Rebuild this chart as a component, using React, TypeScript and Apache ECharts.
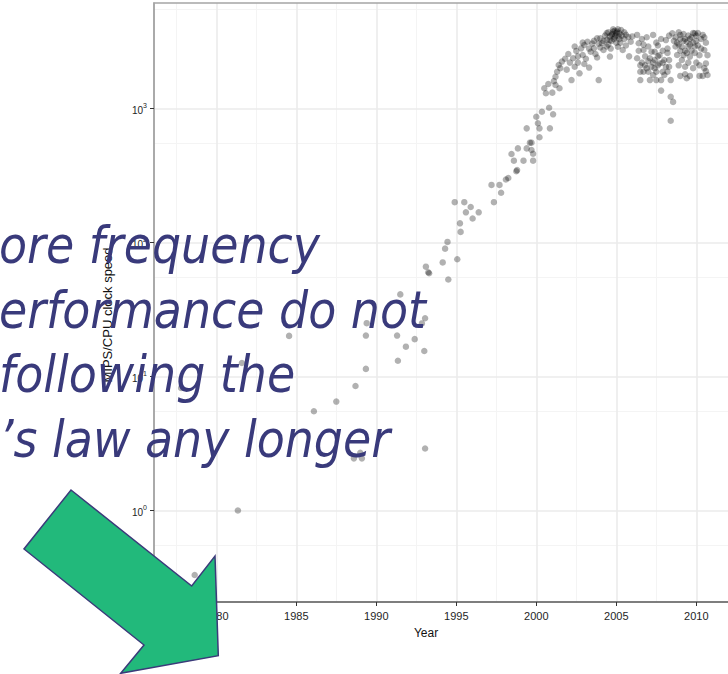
import React, { useEffect, useRef } from 'react';
import * as echarts from 'echarts';

// ---- axis ticks / gridlines ----
const xTickYears = [1980, 1985, 1990, 1995, 2000, 2005, 2010];
const xMinorYears = [1977.5, 1982.5, 1987.5, 1992.5, 1997.5, 2002.5, 2007.5, 2012.5];
const yMajorValues = [1, 10, 100, 1000];
const yMinorValues = [0.55, 5.5, 55, 550, 5500];

// ---- data: [year, MIPS / CPU clock speed] ----
const earlyPoints = [
  [1977.8, 8.2], [1978.65, 0.33], [1981.35, 1.0], [1981.6, 12.6], [1984.55, 20.1],
  [1986.1, 5.5], [1987.5, 6.5], [1988.7, 8.5], [1988.6, 2.45], [1989.0, 2.7],
  [1989.1, 2.45], [1989.35, 11.4], [1989.35, 20.2], [1989.4, 25], [1991.3, 20.2],
  [1991.35, 13.1], [1991.85, 16.7], [1992.4, 19.0], [1993.0, 15.5], [1991.5, 41],
  [1993.05, 27.2], [1992.85, 24.9], [1993.05, 2.9],
];

const ninetiesPoints = [
  [1993.1, 66], [1993.25, 60], [1993.3, 59], [1994.15, 71], [1994.5, 53],
  [1994.3, 90], [1994.45, 101], [1995.06, 75], [1995.23, 139], [1995.27, 120],
  [1994.9, 200], [1995.5, 200], [1995.6, 168], [1995.9, 184], [1996.02, 151],
  [1996.4, 168], [1997.35, 200], [1997.2, 269], [1997.7, 269], [1997.8, 235],
  [1998.25, 303], [1998.1, 295],
];

const climbPoints = [
  [1998.75, 340], [1998.8, 347], [1998.6, 408], [1999.2, 408], [1999.8, 408],
  [1998.45, 458], [1998.85, 504], [1999.4, 504], [1999.7, 490], [1999.8, 460],
  [1999.7, 556], [1999.6, 556], [2000.2, 610], [2000.2, 711], [2000.1, 776],
  [1999.4, 711], [2000.85, 711], [2000.0, 868], [2000.35, 946], [2000.8, 1014],
  [2001.05, 905], [2000.5, 1415], [2000.75, 1524], [2001.0, 1313], [2001.2, 1497],
  [2001.45, 1415], [2001.2, 1727], [2001.3, 1882], [2000.6, 1300], [2001.1, 1600],
];

const peakPoints = [
  [2001.5, 2000], [2001.6, 2240], [2001.4, 2110], [2001.9, 1950], [2002.2, 1630],
  [2002.3, 2370], [2002.4, 2050], [2002.7, 1830], [2002.5, 2690], [2002.8, 2810],
  [2003.0, 2980], [2002.9, 2510], [2003.3, 2020], [2003.4, 2650], [2003.6, 2810],
  [2003.9, 1630], [2003.8, 3340], [2004.1, 3070], [2002.1, 2200], [2002.6, 2450],
  [2003.1, 2350], [2003.2, 3150], [2003.5, 3050], [2003.7, 2550], [2004.0, 3340],
  [2004.0, 2850], [2002.0, 2550], [2001.8, 2350], [2003.0, 2150], [2002.4, 2900],
  [2004.2, 2730], [2004.3, 3500], [2004.4, 3250], [2004.5, 3700], [2004.6, 3240],
  [2004.6, 2440], [2004.7, 3550], [2004.8, 3750], [2004.8, 3900], [2004.9, 3400],
  [2005.0, 3650], [2005.0, 3100], [2005.1, 2890], [2005.2, 3640], [2005.3, 3850],
  [2005.4, 2730], [2005.5, 3300], [2005.6, 3550], [2005.75, 3420], [2005.9, 3150],
  [2004.5, 3000], [2004.4, 2900], [2005.2, 3300], [2004.9, 3800], [2004.7, 3200],
  [2005.6, 2950], [2006.0, 3450], [2005.8, 2450], [2004.75, 3600], [2005.05, 3750],
  [2004.95, 3500], [2005.15, 3450], [2004.6, 3450], [2004.85, 3300], [2005.1, 3900],
  [2004.4, 3650], [2005.35, 3500], [2004.2, 3200], [2003.9, 3050], [2003.6, 3200],
  [2005.5, 3700], [2004.65, 2800], [2005.25, 3100], [2003.3, 2800], [2002.9, 3100],
  [2002.6, 2200], [2003.8, 2400],
];

const plateauPoints = [
  [2006.3, 3540], [2006.4, 3070], [2006.3, 2370], [2006.5, 1880], [2006.5, 1630],
  [2006.7, 2730], [2006.9, 2000], [2007.1, 2370], [2007.3, 3540], [2007.4, 2650],
  [2007.5, 1630], [2007.7, 2170], [2007.8, 1630], [2007.8, 1360], [2008.1, 3240],
  [2008.2, 1880], [2008.4, 1630], [2008.4, 1225], [2008.55, 1120], [2008.4, 810],
  [2006.6, 2200], [2006.8, 2450], [2006.7, 1880], [2007.0, 1880], [2007.2, 2050],
  [2007.3, 2200], [2007.5, 1880], [2007.6, 2450], [2007.9, 1880], [2008.0, 2300],
  [2008.2, 2600], [2008.3, 2050], [2007.0, 2900], [2007.6, 2950], [2007.9, 2700],
  [2006.4, 2700], [2006.6, 3300], [2007.8, 3300], [2008.3, 3500], [2007.1, 1630],
  [2006.5, 2100], [2007.4, 2000], [2007.7, 2500], [2008.1, 2050], [2007.4, 2300],
  [2007.9, 2200], [2008.3, 2300], [2006.9, 3400], [2007.2, 2650], [2007.0, 2250],
  [2006.8, 2100], [2007.6, 2100], [2008.0, 1780], [2007.3, 1780], [2008.2, 2800],
  [2006.7, 3000], [2007.5, 3100],
  [2008.5, 3640], [2008.7, 3400], [2008.8, 2510], [2009.0, 3540], [2009.0, 3300],
  [2009.1, 2890], [2009.3, 2050], [2009.4, 3150], [2009.4, 1680], [2009.6, 2440],
  [2009.6, 1750], [2009.8, 3650], [2009.9, 3640], [2010.0, 3200], [2010.2, 1750],
  [2010.4, 3540], [2010.5, 2730], [2010.6, 2170], [2010.7, 1780], [2010.7, 2500],
  [2008.9, 3000], [2009.2, 3600], [2009.3, 2700], [2009.5, 2900], [2009.7, 3400],
  [2009.9, 2600], [2010.0, 2200], [2010.1, 2950], [2010.3, 3300], [2010.5, 2000],
  [2009.1, 2300], [2008.7, 2900], [2009.8, 2000], [2010.6, 3100], [2008.9, 2100],
  [2009.0, 1750], [2010.4, 1750], [2009.6, 3000], [2009.3, 3300], [2009.5, 3500],
  [2009.2, 2500], [2009.7, 2700], [2010.0, 3500], [2008.8, 3100], [2009.9, 2900],
  [2010.2, 2500], [2008.6, 3200], [2009.0, 2700], [2009.2, 3200], [2009.4, 2600],
  [2009.6, 3300], [2009.8, 3100], [2010.1, 3650], [2010.3, 2800], [2010.5, 3400],
  [2008.9, 3700], [2009.5, 2200], [2010.2, 2100], [2010.6, 1900], [2009.3, 1800],
];

const annotationLines = [
  'ore frequency',
  'erformance do not',
  'following the',
  '\u2019s law any longer',
];

const ARROW = [
  [71, 490], [191.7, 586], [215, 556], [218.3, 655.7], [120.7, 673.3], [144, 645], [24, 549],
];

export default function App() {
  const ref = useRef<HTMLDivElement>(null);

  useEffect(() => {
    if (!ref.current) return;
    const chart = echarts.init(ref.current, undefined, { renderer: 'svg' });

    const allPoints = [...earlyPoints, ...ninetiesPoints, ...climbPoints, ...peakPoints, ...plateauPoints];

    const majorStyle = { color: '#ebebeb', width: 1.6, type: 'solid' };
    const minorStyle = { color: '#f4f4f4', width: 1, type: 'solid' };

    const gridLines = [
      ...xMinorYears.map((v) => ({ xAxis: v, lineStyle: minorStyle })),
      ...yMinorValues.map((v) => ({ yAxis: v, lineStyle: minorStyle })),
      ...xTickYears.map((v) => ({ xAxis: v, lineStyle: majorStyle })),
      ...yMajorValues.map((v) => ({ yAxis: v, lineStyle: majorStyle })),
    ];

    const lineBaseY = [263, 328, 392, 457];
    const labelFont = 'Liberation Sans, Arial, sans-serif';

    const option: any = {
      animation: false,
      backgroundColor: '#ffffff',
      grid: {
        left: 154,
        top: 3,
        right: -30,
        bottom: 72,
        show: true,
        borderColor: '#a5a5a5',
        borderWidth: 1.5,
        backgroundColor: 'transparent',
        containLabel: false,
        outerBoundsMode: 'none',
        z: 6,
      },
      xAxis: {
        type: 'value',
        min: 1976.107,
        max: 2013.856,
        z: 6,
        splitLine: { show: false },
        axisLine: { show: true, onZero: false, lineStyle: { color: '#6a6a6a', width: 1.5 } },
        axisTick: { show: true, customValues: xTickYears, length: 4, lineStyle: { color: '#333', width: 1 } },
        axisLabel: {
          customValues: xTickYears,
          margin: 8,
          fontSize: 11,
          color: '#1e1e1e',
          fontFamily: labelFont,
          formatter: (v: number) => String(Math.round(v)),
        },
      },
      yAxis: {
        type: 'log',
        logBase: 10,
        min: 0.2076,
        max: 6128,
        z: 6,
        splitLine: { show: false },
        minorSplitLine: { show: false },
        axisLine: { show: true, onZero: false, lineStyle: { color: '#a5a5a5', width: 1.5 } },
        axisTick: { show: true, length: 4, lineStyle: { color: '#333', width: 1 } },
        axisLabel: {
          showMinLabel: false,
          showMaxLabel: false,
          margin: 7,
          formatter: (v: number) => {
            const e = Math.round(Math.log10(v));
            return `{b|10}{s|${e}}`;
          },
          rich: {
            b: { fontSize: 10, color: '#1e1e1e', fontFamily: labelFont, lineHeight: 14, verticalAlign: 'bottom' },
            s: { fontSize: 7, color: '#1e1e1e', fontFamily: labelFont, lineHeight: 14, verticalAlign: 'top' },
          },
        },
      },
      series: [
        {
          type: 'line',
          data: [],
          silent: true,
          z: 1,
          markLine: {
            silent: true,
            symbol: ['none', 'none'],
            label: { show: false },
            animation: false,
            z: 1,
            data: gridLines,
          },
        },
        {
          type: 'scatter',
          data: allPoints,
          symbol: 'circle',
          symbolSize: 6.5,
          z: 10,
          itemStyle: { color: 'rgba(0,0,0,0.38)' },
          silent: true,
        },
      ],
      graphic: {
        elements: [
          {
            type: 'text',
            x: 107,
            y: 315,
            rotation: Math.PI / 2,
            z: 20,
            style: {
              text: 'MIPS/CPU clock speed',
              fill: '#111',
              fontSize: 13,
              fontFamily: labelFont,
              align: 'center',
              verticalAlign: 'middle',
            },
          },
          {
            type: 'text',
            x: 426,
            y: 633,
            z: 20,
            style: {
              text: 'Year',
              fill: '#111',
              fontSize: 12,
              fontFamily: labelFont,
              align: 'center',
              verticalAlign: 'middle',
            },
          },
          ...annotationLines.map((t, i) => ({
            type: 'text',
            x: -1,
            y: lineBaseY[i] - 17.5,
            z: 50,
            style: {
              text: t,
              fill: '#393a7b',
              fontSize: 51,
              fontStyle: 'italic',
              fontFamily: '"DejaVu Sans Condensed", "DejaVu Sans", sans-serif',
              align: 'left',
              verticalAlign: 'middle',
            },
          })),
          {
            type: 'polygon',
            z: 100,
            shape: { points: ARROW },
            style: { fill: '#22b97b', stroke: '#3b3a7a', lineWidth: 1.5 },
          },
        ],
      },
    };

    chart.setOption(option);
    return () => chart.dispose();
  }, []);

  return (
    <div
      ref={ref}
      style={{ position: 'absolute', left: 0, top: 0, width: 728, height: 674 }}
    />
  );
}
